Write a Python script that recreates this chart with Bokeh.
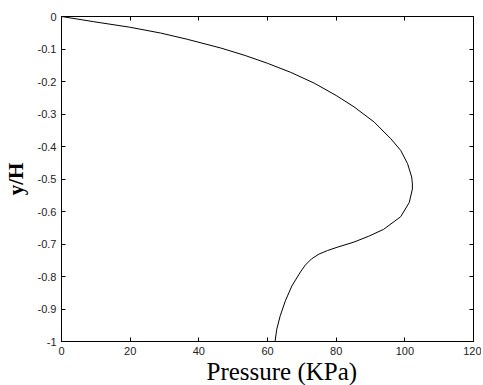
from bokeh.plotting import figure
from bokeh.models import LinearAxis, Range1d, FixedTicker, Title
from bokeh.embed import file_html
from bokeh.resources import INLINE

# Data
pressure_kpa = [0, 9.4, 19.9, 28.9, 36.6, 46.4, 53.5, 60.0, 66.8, 73.6, 80.0, 85.2,
                91.1, 95.9, 98.8, 100.8, 102.0, 102.2, 102.2, 101.3, 98.8, 93.8, 89.5,
                85.2, 80.3, 77.5, 75.0, 72.8, 71.0, 69.6, 67.1, 65.2, 63.7, 62.7, 62.2]
y_over_h = [0, -0.016, -0.033, -0.051, -0.070, -0.097, -0.120, -0.144, -0.172, -0.205,
            -0.243, -0.278, -0.325, -0.376, -0.412, -0.453, -0.494, -0.515, -0.531,
            -0.572, -0.616, -0.655, -0.676, -0.694, -0.710, -0.720, -0.731, -0.746,
            -0.765, -0.786, -0.829, -0.875, -0.921, -0.962, -1.0]
x_ticks = [0, 20, 40, 60, 80, 100, 120]
y_ticks = [0, -0.1, -0.2, -0.3, -0.4, -0.5, -0.6, -0.7, -0.8, -0.9, -1]
y_tick_labels = {0: "0", -0.1: "-0.1", -0.2: "-0.2", -0.3: "-0.3", -0.4: "-0.4", -0.5: "-0.5",
                 -0.6: "-0.6", -0.7: "-0.7", -0.8: "-0.8", -0.9: "-0.9", -1: "-1"}
x_label = "Pressure (KPa)"
y_label = "y/H"

p = figure(frame_width=412, frame_height=325, output_backend="svg", toolbar_location=None,
           x_range=Range1d(0, 120), y_range=Range1d(-1, 0),
           min_border_left=61, min_border_top=16, min_border_right=8, min_border_bottom=0)
p.background_fill_color = "white"
p.border_fill_color = "white"
p.outline_line_color = "black"
p.outline_line_width = 1
p.xgrid.visible = False
p.ygrid.visible = False

p.line(pressure_kpa, y_over_h, line_color="black", line_width=1)

def style(ax):
    ax.axis_line_color = "black"
    ax.major_tick_line_color = "black"
    ax.major_tick_in = 4
    ax.major_tick_out = 0
    ax.minor_tick_line_color = None
    ax.major_label_text_font = "Liberation Sans"
    ax.major_label_text_font_size = "11px"
    ax.major_label_text_color = "#222222"
    ax.major_label_standoff = 5

p.xaxis.ticker = FixedTicker(ticks=x_ticks)
p.yaxis.ticker = FixedTicker(ticks=y_ticks)
p.yaxis.major_label_overrides = y_tick_labels
style(p.xaxis[0])
style(p.yaxis[0])

p.add_layout(Title(text=x_label, align="left", offset=145, standoff=0,
                   vertical_align="top",
                   text_font="Liberation Serif", text_font_style="normal",
                   text_font_size="25px", text_color="black"), "below")

p.yaxis.axis_label = y_label
p.yaxis.axis_label_text_font = "Liberation Serif"
p.yaxis.axis_label_text_font_style = "bold"
p.yaxis.axis_label_text_font_size = "21px"
p.yaxis.axis_label_text_color = "black"
p.yaxis.axis_label_standoff = 7

top = LinearAxis(ticker=FixedTicker(ticks=x_ticks))
style(top)
top.major_label_standoff = 0
top.major_label_overrides = {t: "" for t in x_ticks}
p.add_layout(top, "above")
right = LinearAxis(ticker=FixedTicker(ticks=y_ticks))
style(right)
right.major_label_standoff = 0
right.major_label_overrides = {t: "" for t in y_ticks}
p.add_layout(right, "right")

open("out.html", "w").write(file_html(p, INLINE))
